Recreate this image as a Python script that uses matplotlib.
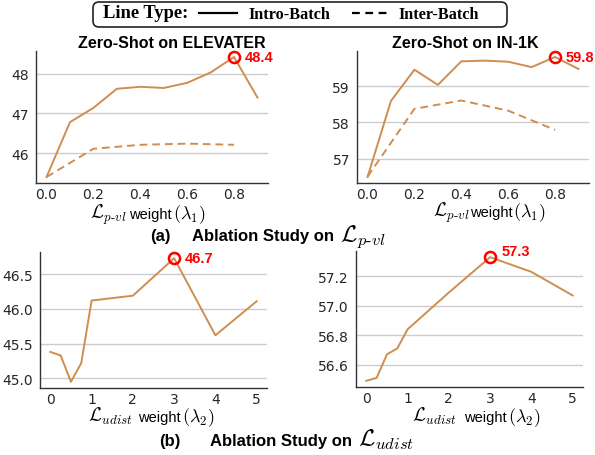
import matplotlib
matplotlib.use("Agg")
import matplotlib.pyplot as plt
from matplotlib.lines import Line2D
from matplotlib.patches import FancyBboxPatch

# ---------------- data ----------------
lam1 = [0.0, 0.1, 0.2, 0.3, 0.4, 0.5, 0.6, 0.7, 0.8, 0.9]
lam1_inter = [0.0, 0.2, 0.4, 0.6, 0.8]

elev_intro = [45.40, 46.78, 47.14, 47.62, 47.67, 47.64, 47.77, 48.03, 48.42, 47.40]
elev_inter = [45.40, 46.11, 46.21, 46.24, 46.21]

in1k_intro = [56.49, 58.59, 59.45, 59.03, 59.68, 59.70, 59.67, 59.52, 59.80, 59.47]
in1k_inter = [56.50, 58.37, 58.60, 58.32, 57.79]

lam2 = [0, 0.25, 0.5, 0.75, 1, 2, 3, 4, 5]
udist_elev = [45.38, 45.33, 44.95, 45.22, 46.12, 46.19, 46.73, 45.62, 46.11]
udist_in1k = [56.49, 56.51, 56.67, 56.71, 56.84, 57.09, 57.33, 57.23, 57.07]

best = [(0.8, 48.42, "48.4"), (0.8, 59.80, "59.8"), (3, 46.73, "46.7"), (3, 57.33, "57.3")]
label_offsets = [(11, 0), (11, 0), (11, 0), (11, 6)]

titles = ["Zero-Shot on ELEVATER", "Zero-Shot on IN-1K"]
xt1 = [0.0, 0.2, 0.4, 0.6, 0.8]
xt2 = [0, 1, 2, 3, 4, 5]
yt = [[46, 47, 48], [57, 58, 59], [45.0, 45.5, 46.0, 46.5], [56.6, 56.8, 57.0, 57.2]]

# ---------------- style ----------------
W, H = 595, 456
plt.rcParams['mathtext.fontset'] = 'cm'
plt.rcParams['font.family'] = ['DejaVu Sans']
LC = '#CF8D50'
fig = plt.figure(figsize=(W / 100, H / 100), dpi=100)

def ax_px(x0, x1, y0, y1):
    return fig.add_axes([x0 / W, 1 - y1 / H, (x1 - x0) / W, (y1 - y0) / H])

axes = [ax_px(36, 268, 52, 184), ax_px(357, 589, 52, 184),
        ax_px(40, 267, 253, 389), ax_px(356, 583, 252, 388)]

def style(ax, yticks, xticks, fmt):
    ax.set_yticks(yticks)
    ax.set_xticks(xticks)
    ax.yaxis.set_major_formatter(matplotlib.ticker.FormatStrFormatter(fmt))
    ax.grid(axis='y', color='#cccccc', lw=1)
    ax.set_axisbelow(True)
    for s in ['top', 'right']:
        ax.spines[s].set_visible(False)
    for s in ['left', 'bottom']:
        ax.spines[s].set_color('#333333')
        ax.spines[s].set_linewidth(1.0)
    ax.tick_params(length=0, labelsize=10, colors='#262626')
    ax.tick_params(axis='x', pad=3)
    ax.tick_params(axis='y', pad=5)

axes[0].plot(lam1, elev_intro, color=LC, lw=1.4)
axes[0].plot(lam1_inter, elev_inter, color=LC, lw=1.4, ls=(0, (4, 2.5)))
axes[1].plot(lam1, in1k_intro, color=LC, lw=1.4)
axes[1].plot(lam1_inter, in1k_inter, color=LC, lw=1.4, ls=(0, (4, 2.5)))
axes[2].plot(lam2, udist_elev, color=LC, lw=1.4)
axes[3].plot(lam2, udist_in1k, color=LC, lw=1.4)

style(axes[0], yt[0], xt1, '%g')
axes[0].xaxis.set_major_formatter(matplotlib.ticker.FormatStrFormatter('%.1f'))
style(axes[1], yt[1], xt1, '%g')
axes[1].xaxis.set_major_formatter(matplotlib.ticker.FormatStrFormatter('%.1f'))
style(axes[2], yt[2], xt2, '%.1f')
style(axes[3], yt[3], xt2, '%.1f')

for ax, (bx, by, s), (dx, dy) in zip(axes, best, label_offsets):
    ax.plot([bx], [by], 'o', mfc='none', mec='red', ms=8, mew=1.8, clip_on=False, zorder=5)
    ax.annotate(s, (bx, by), xytext=(dx * 0.72, dy * 0.72), textcoords='offset points',
                color='red', fontweight='bold', fontsize=10.5, family='Liberation Sans',
                ha='left', va='center', annotation_clip=False)

def ftxt(x, y, s, **kw):
    kw.setdefault('ha', 'center')
    kw.setdefault('va', 'center')
    fig.text(x / W, 1 - y / H, s, **kw)

ftxt(172, 43, titles[0], fontsize=11.5, fontweight='bold', family='Liberation Sans')
ftxt(465, 43, titles[1], fontsize=11.5, fontweight='bold', family='Liberation Sans')

m_pvl = r"$\mathcal{L}_{p\text{-}vl}$"
m_ud = r"$\mathcal{L}_{udist}$"
m_l1 = r"$(\lambda_1)$"
m_l2 = r"$(\lambda_2)$"

def xlabel(xm, xw, xl, yb, math, lam):
    ftxt(xm, yb, math, ha='left', va='baseline', fontsize=13.5)
    ftxt(xw, yb, "weight", ha='left', va='baseline', fontsize=10.5, family='Liberation Sans')
    ftxt(xl, yb, lam, ha='left', va='baseline', fontsize=13)

xlabel(90, 129, 173, 219, m_pvl, m_l1)
xlabel(433, 470, 513, 217, m_pvl, m_l1)
xlabel(88, 138, 182, 422, m_ud, m_l2)
xlabel(412, 464, 508, 422, m_ud, m_l2)

ftxt(150, 241, "(a)", ha='left', va='baseline', fontsize=12, fontweight='bold', family='Liberation Sans')
ftxt(192, 241, "Ablation Study on", ha='left', va='baseline', fontsize=12, fontweight='bold',
     family='Liberation Sans')
ftxt(340, 241, m_pvl, ha='left', va='baseline', fontsize=17)
ftxt(159, 446, "(b)", ha='left', va='baseline', fontsize=12, fontweight='bold', family='Liberation Sans')
ftxt(210, 446, "Ablation Study on", ha='left', va='baseline', fontsize=12, fontweight='bold',
     family='Liberation Sans')
ftxt(358, 446, m_ud, ha='left', va='baseline', fontsize=17)

# ---------------- legend box ----------------
box = FancyBboxPatch((93 / 100, (H - 28) / 100), (507 - 93) / 100, 25 / 100,
                     boxstyle="round,pad=0,rounding_size=0.06",
                     transform=fig.dpi_scale_trans, fc='white', ec='#222222', lw=1.2)
fig.patches.append(box)
ftxt(103, 14, "Line Type:", ha='left', fontsize=13.3, fontweight='bold', family='Liberation Serif')
fig.add_artist(Line2D([199 / W, 237 / W], [1 - 14 / H, 1 - 14 / H], color='black', lw=1.6))
ftxt(248, 15, "Intro-Batch", ha='left', fontsize=11.7, fontweight='bold', family='Liberation Serif')
fig.add_artist(Line2D([352 / W, 392 / W], [1 - 14 / H, 1 - 14 / H], color='black', lw=1.6,
                      ls=(0, (3.5, 2.5))))
ftxt(398, 15, "Inter-Batch", ha='left', fontsize=11.7, fontweight='bold', family='Liberation Serif')

fig.savefig("out.png", dpi=100)
